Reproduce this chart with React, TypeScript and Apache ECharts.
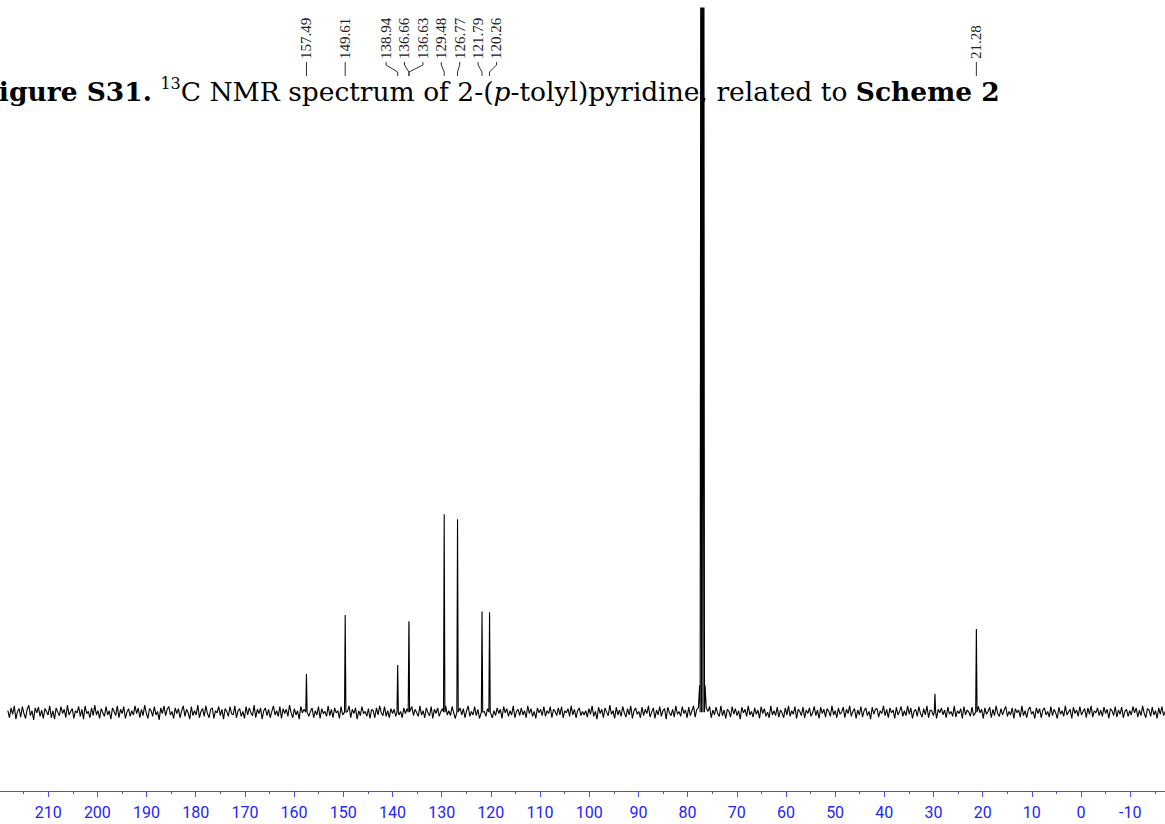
import React, { useEffect, useRef } from "react";
import * as echarts from "echarts";

// ---- axis ----
const AXIS_MIN = -20;
const AXIS_MAX = 220;
const TICK_STEP = 10;

// ---- peaks (ppm, intensity in arbitrary units; baseline = 0) ----
const LABELED_PPM = [157.49, 149.61, 138.94, 136.66, 136.63, 129.48, 126.77, 121.79, 120.26, 21.28];
const PEAK_PPM = [157.49, 149.61, 138.94, 136.66, 136.63, 129.48, 126.77, 121.79, 120.26, 77.3, 77.0, 76.7, 29.7, 21.28];
const PEAK_HEIGHT = [5.4, 13.8, 6.7, 12.9, 12.6, 28.1, 27.4, 14.3, 14.2, 130, 130, 130, 2.6, 11.8];
const SHOULDER_PPM = [77.8, 77.55, 76.45, 76.2];
const SHOULDER_HEIGHT = [0.6, 3.8, 3.8, 0.6];

// ---- baseline noise, from left (218.2 ppm) to right (-17.1 ppm) ----
const NOISE_START = 218.2;
const NOISE_END = -17.1;
const NOISE = [
  0.2, -0.8, 0.6, -0.3, 0.9, -1.0, 0.1, 0.5, -0.7, 0.8, -0.2, -0.9, 0.4, 1.0, -0.5, 0.2, -1.1, 0.6, -0.1, 0.7,
  -0.6, 0.3, -0.9, 0.5, 0.1, -0.4, 0.9, -0.8, 0.2, -1.0, 0.6, 0.0, -0.5, 0.8, -0.2, 0.4, -0.8, 1.0, -0.4, 0.1,
  0.5, -0.9, 0.2, -0.1, 0.8, -0.6, 0.4, -1.0, 0.9, -0.2, 0.1, -0.8, 0.6, -0.5, 1.0, -0.4, 0.2, -0.9, 0.5, -0.1,
  -0.6, 0.8, -0.4, 0.2, -1.0, 0.6, 0.1, -0.5, 0.9, -0.8, 0.4, -0.2, 0.8, -0.9, 0.0, 0.5, -0.6, 0.2, -0.4, 0.9,
  -0.2, 0.6, -0.8, 0.4, -0.5, 1.0, -0.1, -0.9, 0.5, 0.2, -0.6, 0.8, -0.4, 0.1, -1.1, 0.6, -0.2, 0.9, -0.5, 0.4,
  0.8, -0.4, 0.1, -0.9, 0.6, -0.2, 0.5, -0.8, 0.2, 0.9, -0.6, 0.4, -0.1, -1.0, 0.8, -0.5, 0.2, -0.4, 1.0, -0.8,
  0.1, 0.5, -0.6, 0.9, -0.2, -0.8, 0.4, 0.6, -0.9, 0.2, -0.1, 0.8, -0.5, 0.4, -1.0, 0.5, 0.1, -0.6, 0.8, -0.2,
  -0.4, 0.9, -0.8, 0.2, 0.5, -0.6, 0.1, -0.9, 0.8, -0.4, 0.6, -0.1, -0.5, 1.0, -0.8, 0.4, -0.2, 0.6, -1.0, 0.2,
  0.6, -0.5, 0.4, -0.8, 0.1, 0.9, -0.4, 0.2, -0.6, 0.8, -0.9, 0.5, -0.2, 0.4, -0.6, 1.0, -0.1, -0.8, 0.5, -0.4,
  0.2, -1.0, 0.8, -0.1, 0.4, -0.5, 0.9, -0.6, 0.1, 0.6, -0.8, 0.2, -0.4, 0.8, -0.9, 0.5, -0.2, 0.1, -0.6, 0.9,
  -0.5, 0.4, -0.8, 0.6, -0.1, 0.2, -0.9, 0.8, -0.4, 0.5, -0.6, 0.1, 0.9, -0.8, 0.4, -0.2, 0.6, -1.0, 0.2, -0.5,
  0.8, -0.2, 0.1, -0.6, 0.5, -0.9, 0.4, 0.2, -0.8, 0.6, -0.4, 0.9, -0.1, -0.5, 0.8, -0.6, 0.2, -0.8, 0.5, -0.2,
  0.4, -0.6, 0.9, -0.4, 0.1, -0.8, 0.6, -0.2, 0.5, -0.9, 0.2, 0.8, -0.5, 0.4, -0.1, -0.6, 0.9, -0.4, 0.2, -0.8,
  0.6, -0.1, -0.5, 0.8, -0.9, 0.4, -0.2, 0.6, -0.6, 0.1, 0.5, -0.8, 0.9, -0.4, 0.2, -0.5, 0.8, -0.1, -0.9, 0.4,
  -0.2, 0.6, -0.4, 0.5, -0.8, 0.2, 0.9, -0.6, 0.1, -0.4, 0.8, -0.5, 0.4, -0.9, 0.6, -0.2, 0.1, -0.6, 0.5, -0.1,
  0.8, -0.8, 0.2, -0.5, 0.6, -0.2, 0.4, -0.9, 0.8, -0.1, 0.5, -0.6, 0.2, -0.4, 0.9, -0.8, 0.1, 0.4, -0.5, 0.6,
  -0.4, 0.2, -0.8, 0.9, -0.2, 0.5, -0.6, 0.1, -0.9, 0.6, -0.1, 0.4, -0.5, 0.8, -0.6, 0.2, -0.2, 0.8, -0.8, 0.4,
  0.1, -0.5, 0.6, -0.4, 0.8, -0.8, 0.2, -0.1, 0.5, -0.6, 0.9, -0.4, 0.4, -0.8, 0.2, 0.6, -0.5, 0.1, -0.4, 0.2,
  -0.7, 0.5, -0.3, 0.9, -0.6, 0.1, -1.0, 0.7, -0.2, 0.4, -0.8, 0.6, 0.0, -0.5, 1.0, -0.3, 0.2, -0.9, 0.7, -0.4,
  0.3, -0.6, 0.8, -0.1, -0.7, 0.5, -0.4, 0.9, -0.9, 0.2, 0.6, -0.3, 0.1, -0.8, 0.7, -0.5, 0.4, -0.2, 0.9, -0.7,
  0.0, 0.6, -0.9, 0.3, -0.4, 0.8, -0.6, 0.2, 0.5, -1.0, 0.7, -0.1, -0.5, 0.4, -0.7, 0.9, -0.3, 0.1, -0.6, 0.8,
  -0.2, 0.3, -0.8, 0.7, -0.5, 0.2, 0.9, -0.7, 0.4, -0.1, -0.9, 0.6, -0.3, 0.5, -0.6, 0.1, 0.8, -0.8, 0.3, -0.4,
  0.7, -0.2, -0.6, 0.9, -0.5, 0.3, -0.9, 0.4, 0.1, -0.7, 0.8, -0.3, 0.5, -0.5, 0.2, -1.0, 0.7, -0.1, 0.4, -0.6,
  0.9, -0.4, 0.1, -0.7, 0.6, -0.3, 0.3, -0.9, 0.8, -0.2, 0.5, -0.6, 0.0, -0.8, 0.9, -0.4, 0.2, -0.5, 0.7, -0.7,
  0.3, -0.1, -0.8, 0.6, -0.4, 0.9, -0.6, 0.2, -0.3, 0.8, -0.9, 0.4, 0.1, -0.5, 0.7, -0.8, 0.3, -0.2, 0.6, -0.6,
  -0.1, 0.8, -0.5, 0.3, -0.9, 0.7, -0.2, 0.4, -0.7, 0.5, 0.1, -0.6, 0.9, -0.4, 0.2, -0.8, 0.6, -0.3, 0.0, 0.7,
  -0.8, 0.4, -0.2, 0.9, -0.6, 0.1, 0.5, -0.9, 0.3, -0.4, 0.8, -0.7, 0.2, 0.6, -0.5, 0.1, -1.0, 0.7, -0.3, 0.4,
  0.5, -0.7, 0.2, -0.2, 0.9, -0.5, 0.4, -0.8, 0.6, -0.1, 0.3, -0.9, 0.7, -0.4, 0.1, 0.8, -0.6, 0.2, -0.5, 0.9,
  -0.3, 0.6, -0.9, 0.1, 0.4, -0.6, 0.8, -0.2, -0.7, 0.5, -0.4, 0.9, -0.8, 0.3, 0.2, -0.5, 0.7, -0.9, 0.4, -0.1,
  0.6, -0.4, 0.3, -0.8, 0.7, -0.3, 0.1, -0.6, 0.9, -0.7, 0.2, -0.2, 0.5, -0.9, 0.8, -0.4, 0.3, 0.0, -0.6, 0.7,
  -0.5, 0.2, -0.7, 0.8, -0.1, 0.4, -0.9, 0.6, -0.3, 0.1, 0.7, -0.8, 0.4, -0.5, 0.9, -0.2, -0.6, 0.5, -0.4, 0.3,
  0.8, -0.6, 0.1, -0.4, 0.6, -0.9, 0.5, -0.1, 0.3, -0.7, 0.9, -0.5, 0.2, -0.8, 0.4, 0.7, -0.3, 0.1, -0.9, 0.6,
  -0.2, 0.5, -0.8, 0.3, 0.6, -0.4, 0.1, -0.7, 0.8, -0.5, 0.4, -0.1, -0.9, 0.7, -0.3, 0.2, -0.6, 0.9, -0.4, 0.0,
  0.4, -0.9, 0.7, -0.2, 0.3, -0.6, 0.8, -0.4, 0.1, 0.5, -0.8, 0.6, -0.3, 0.9, -0.7, 0.2, -0.1, 0.6, -0.5, 0.3,
  -0.6, 0.7, -0.2, 0.4, -0.9, 0.5, 0.2, -0.5, 0.8, -0.7, 0.3, -0.3, 0.7, -0.8, 0.1, 0.4, -0.6, 0.2, -0.4, 0.8,
  -0.1, 0.6, -0.7, 0.3, -0.5, 0.9, -0.2, -0.8, 0.5, 0.3, -0.6, 0.7, -0.4, 0.2, -0.9, 0.6, -0.3, 0.8, -0.5, 0.1,
];

// ---- title ----
const TITLE_RICH =
  "{b|Figure S31.} {sup|13}{r|C NMR spectrum of 2-(}{i|p}{r|-tolyl)pyridine, related to }{b|Scheme 2}";

function buildSpectrum(): [number, number][] {
  const pts: [number, number][] = [];
  const step = (NOISE_START - NOISE_END) / (NOISE.length - 1);
  NOISE.forEach((v, i) => {
    const p = NOISE_START - i * step;
    if (PEAK_PPM.some((q) => Math.abs(q - p) < 0.25)) return;
    if (p < 77.9 && p > 76.1) return;
    pts.push([p, v]);
  });
  PEAK_PPM.forEach((p, i) => {
    pts.push([p + 0.14, 0], [p, PEAK_HEIGHT[i]], [p - 0.14, 0]);
  });
  SHOULDER_PPM.forEach((p, i) => pts.push([p, SHOULDER_HEIGHT[i]]));
  pts.sort((a, b) => b[0] - a[0]);
  return pts;
}

function layoutLabels(desired: number[], gap: number): number[] {
  type G = { items: number[]; center: number };
  const groups: G[] = desired.map((d, i) => ({ items: [i], center: d }));
  let merged = true;
  while (merged) {
    merged = false;
    for (let k = 0; k < groups.length - 1; k++) {
      const a = groups[k];
      const b = groups[k + 1];
      const aEnd = a.center + ((a.items.length - 1) / 2) * gap;
      const bStart = b.center - ((b.items.length - 1) / 2) * gap;
      if (bStart - aEnd < gap) {
        const items = a.items.concat(b.items);
        const center = items.reduce((s, i) => s + desired[i], 0) / items.length;
        groups.splice(k, 2, { items, center });
        merged = true;
        break;
      }
    }
  }
  const out: number[] = new Array(desired.length);
  groups.forEach((g) => {
    g.items.forEach((idx, j) => {
      out[idx] = g.center + (j - (g.items.length - 1) / 2) * gap;
    });
  });
  return out;
}

export default function App() {
  const ref = useRef<HTMLDivElement>(null);
  useEffect(() => {
    if (!ref.current) return;
    const chart = echarts.init(ref.current, undefined, { renderer: "svg" });
    const blue = "#2323ff";
    const axisBlue = "#4a4aff";
    chart.setOption({
      animation: false,
      backgroundColor: "#fff",
      grid: { left: -1, width: 1180.4, top: 8, bottom: 33, containLabel: false, outerBoundsMode: "none" },
      xAxis: {
        type: "value",
        min: AXIS_MIN,
        max: AXIS_MAX,
        interval: TICK_STEP,
        inverse: true,
        axisLine: { show: true, onZero: false, lineStyle: { color: axisBlue, width: 1 } },
        axisTick: { show: true, length: 6, lineStyle: { color: axisBlue } },
        minorTick: { show: true, splitNumber: 2, length: 3, lineStyle: { color: axisBlue } },
        splitLine: { show: false },
        axisLabel: {
          color: blue,
          fontFamily: "Roboto",
          fontSize: 16,
          margin: 13,
          showMinLabel: false,
          showMaxLabel: false,
        },
      },
      yAxis: { type: "value", min: -11.2, max: 100, show: false, splitLine: { show: false } },
      series: [
        {
          type: "line",
          data: buildSpectrum(),
          symbol: "none",
          showSymbol: false,
          clip: true,
          z: 2,
          lineStyle: { color: "#000", width: 1.1 },
        },
      ],
    });

    const px = LABELED_PPM.map((p) => chart.convertToPixel({ xAxisIndex: 0 }, p) as number);
    const order = px.map((_, i) => i).sort((a, b) => px[a] - px[b]);
    const desired = order.map((i) => px[i]);
    const placed = layoutLabels(desired, 18.4);
    const elements: any[] = [];
    order.forEach((idx, k) => {
      const lx = placed[k];
      const peakX = px[idx];
      elements.push({
        type: "text",
        x: lx,
        y: 59,
        rotation: Math.PI / 2,
        z: 5,
        style: {
          text: LABELED_PPM[idx].toFixed(2),
          fontFamily: "Liberation Serif",
          fontSize: 15,
          fill: "#222",
          align: "left",
          verticalAlign: "middle",
        },
      });
      elements.push({
        type: "polyline",
        z: 5,
        shape: { points: [[lx, 62], [lx, 65], [peakX, 72], [peakX, 76]] },
        style: { stroke: "#333", lineWidth: 1, fill: null },
      });
    });
    const serif = "DejaVu Serif";
    const fs = 26.5;
    elements.push({
      type: "text",
      x: -20,
      y: 91,
      z: 0,
      style: {
        text: TITLE_RICH,
        fontFamily: serif,
        fontSize: fs,
        fill: "#000",
        align: "left",
        verticalAlign: "middle",
        rich: {
          b: { fontFamily: serif, fontSize: fs, fontWeight: "bold", lineHeight: 32 },
          r: { fontFamily: serif, fontSize: fs, lineHeight: 32 },
          i: { fontFamily: serif, fontSize: fs, fontStyle: "italic", lineHeight: 32 },
          sup: { fontFamily: serif, fontSize: 16, lineHeight: 32, verticalAlign: "top" },
        },
      },
    });
    chart.setOption({ graphic: { elements } });
    return () => chart.dispose();
  }, []);
  return (
    <div
      ref={ref}
      style={{ position: "fixed", left: 0, top: 0, width: 1165, height: 824, background: "#fff" }}
    />
  );
}
